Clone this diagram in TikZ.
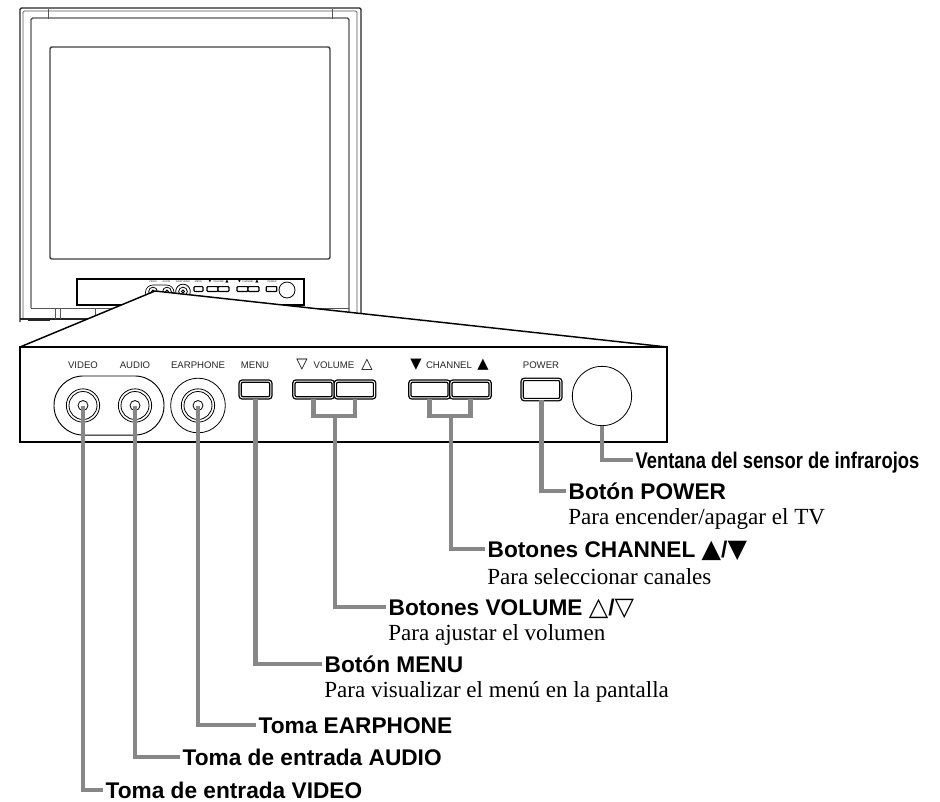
\documentclass[tikz,border=0pt]{standalone}
\usepackage{fontspec}
\setmainfont{Liberation Serif}
\setsansfont{Liberation Sans}
\newfontfamily\symf{DejaVu Sans}
\definecolor{leadgray}{HTML}{878787}
\definecolor{linegray}{HTML}{555555}
\newcommand{\bigtri}[1]{{\symf\fontsize{19}{18}\selectfont\raisebox{-.5pt}{#1}}}
\tikzset{
  tvline/.style={line width=.8pt,draw=black!85},
  tvthin/.style={line width=.6pt,draw=linegray},
  bezel/.style={line width=1pt,draw=linegray,rounded corners=1.2pt},
  lead/.style={line width=3.3pt,draw=leadgray},
  panel/.style={line width=1.1pt,draw=black,fill=white,line join=miter},
  ring/.style={circle,draw=black,line width=.6pt,inner sep=0pt,fill=none},
  btn/.style={rectangle,draw=black,rounded corners=1.8pt,line width=1pt,double=white,double distance=.7pt,inner sep=0pt,minimum height=12.6pt},
  sbtn/.style={rectangle,draw=black,rounded corners=.6pt,line width=.9pt,fill=white,inner sep=0pt,minimum height=3.6pt},
  paneltext/.style={font=\sffamily\fontsize{7.2}{8}\selectfont,inner sep=0pt,text height=5.2pt,text depth=0pt,text=black!85},
  paneltri/.style={font=\symf\fontsize{11}{12}\selectfont,inner sep=0pt,text height=5.2pt,text depth=0pt},
  stext/.style={font=\sffamily\fontsize{1.85}{2}\selectfont,inner sep=0pt,text=black!85},
  stri/.style={font=\symf\fontsize{3.2}{3}\selectfont,inner sep=0pt},
  head/.style={font=\sffamily\bfseries\fontsize{17}{18}\selectfont,anchor=west,inner sep=0pt,outer sep=2pt,text height=12.2pt,text depth=0pt},
  sub/.style={font=\rmfamily\fontsize{17.3}{18}\selectfont,anchor=west,inner sep=0pt},
}
\begin{document}
\begin{tikzpicture}[x=.75pt,y=-.75pt]
\useasboundingbox[fill=white] (0,0) rectangle (940,801);
% television
\draw[line width=1.1pt,draw=black!85,rounded corners=1pt] (20,322) -- (20,8) -- (361,8) -- (361,322);
\draw[tvthin,rounded corners=1pt] (23,319) -- (23,11) -- (357,11) -- (357,322);
\draw[tvline] (20,319) -- (120,319);
\draw[line width=1.6pt,draw=black!85] (28,319.5) -- (50,319.5);
\draw[bezel] (31,308) -- (31,18) -- (349,18) -- (349,322);
\draw[tvthin] (31,308) -- (349,308);
\draw[tvthin] (48,9) -- (48,19);
\draw[tvthin] (332,9) -- (332,19);
\draw[tvthin] (55,308) -- (55,319);
\draw[tvthin] (60,308) -- (60,319);
\draw[tvthin] (95,308) -- (95,319);
\draw[line width=1.1pt,draw=black!75,rounded corners=1.5pt] (50,47) rectangle (330,259);
% small control panel
\draw[line width=1.1pt,draw=black] (77,279) rectangle (304,305);
\draw[line width=.5pt,draw=black,rounded corners=5.5pt] (145.5,285) rectangle (174,300);
\foreach \n/\x in {sv/153,sa/167,se/183}{
  \node[ring,minimum size=6.5pt] (\n) at (\x,291.5) {};
  \node[ring,minimum size=2.2pt] at (\x,291.5) {};
}
\node[ring,minimum size=11pt] (seo) at (183,291.5) {};
\node[sbtn,minimum width=6.8pt] (smenu) at (198.5,289) {};
\node[sbtn,minimum width=8.2pt] (svol1) at (212.5,289) {};
\node[sbtn,minimum width=8.2pt] (svol2) at (223.5,289) {};
\node[sbtn,minimum width=8.2pt] (sch1) at (242.5,289) {};
\node[sbtn,minimum width=8.2pt] (sch2) at (253.5,289) {};
\node[sbtn,minimum width=8pt] (spow) at (271.5,289) {};
\node[ring,minimum size=12pt] (scirc) at (287,290) {};
\node[stext] (tsv) at (153,282) {VIDEO};
\node[stext] (tsa) at (166.5,282) {AUDIO};
\node[stext] (tse) at (183,282) {EARPHONE};
\node[stext] (tsm) at (198.5,282) {MENU};
\node[stri] (tsv1) at (210,281.8) {▼};
\node[stext] (tsvo) at (218.5,282) {VOLUME};
\node[stri] (tsv2) at (227,281.8) {▲};
\node[stri] (tsc1) at (239.5,281.8) {▼};
\node[stext] (tsc) at (248,282) {CHANNEL};
\node[stri] (tsc2) at (257,281.8) {▲};
\node[stext] (tsp) at (272,282) {POWER};
% wedge
\coordinate (apex) at (155,291);
\coordinate (wl) at (20,347);
\coordinate (wr) at (667,347);
\fill[white] (wl) -- (apex) -- (wr) -- cycle;
\draw[line width=1.1pt,draw=black] (wl) -- (apex) -- (wr);
% big control panel
\draw[panel] (20,347) rectangle (667,442);
\node[draw=black,line width=.7pt,fill=white,rectangle,rounded corners=22pt,minimum width=82.5pt,minimum height=44.3pt,inner sep=0pt] (oval) at (109,405.5) {};
\foreach \n/\x in {jv/83,ja/135}{
  \node[ring,minimum size=25pt] at (\x,405.5) {};
  \node[ring,minimum size=21pt] at (\x,405.5) {};
  \node[ring,minimum size=7.5pt] (\n) at (\x,405.5) {};
}
\node[ring,minimum size=41pt] (eo) at (198,405.5) {};
\node[ring,minimum size=25pt] at (198,405.5) {};
\node[ring,minimum size=21pt] at (198,405.5) {};
\node[ring,minimum size=7.5pt] (je) at (198,405.5) {};
\node[btn,minimum width=23pt] (menu) at (255.5,389.5) {};
\node[btn,minimum width=29.5pt] (vol1) at (313.5,389.5) {};
\node[btn,minimum width=29.5pt] (vol2) at (355,389.5) {};
\node[btn,minimum width=29.5pt] (ch1) at (429.5,389.5) {};
\node[btn,minimum width=29.5pt] (ch2) at (470.5,389.5) {};
\node[btn,minimum width=29pt,minimum height=15.2pt] (pow) at (541.5,389.5) {};
\node[ring,minimum size=44.5pt] (irw) at (602,396) {};
\node[paneltext] (tv) at (83,365) {VIDEO};
\node[paneltext] (ta) at (135,365) {AUDIO};
\node[paneltext] (te) at (198,365) {EARPHONE};
\node[paneltext] (tm) at (255,365) {MENU};
\node[paneltri] (tv1) at (302,365) {▽};
\node[paneltext] (tvo) at (334,365) {VOLUME};
\node[paneltri] (tv2) at (367,365) {△};
\node[paneltri] (tc1) at (416,365) {▼};
\node[paneltext] (tc) at (449,365) {CHANNEL};
\node[paneltri] (tc2) at (483,365) {▲};
\node[paneltext] (tp) at (541,365) {POWER};
% labels
\node[head] (lir) at (633,460) {\scalebox{.81}[1]{Ventana del sensor de infrarojos}};
\node[head] (lpow) at (566,491) {Botón POWER};
\node[sub] (spowt) at (568,519) {Para encender/apagar el TV};
\node[head] (lch) at (485,549) {Botones CHANNEL \bigtri{▲}/\bigtri{▼}};
\node[sub] (scht) at (487,577) {Para seleccionar canales};
\node[head] (lvol) at (386,607) {Botones VOLUME \bigtri{△}/\bigtri{▽}};
\node[sub] (svolt) at (388,635) {Para ajustar el volumen};
\node[head] (lmenu) at (322,664) {Botón MENU};
\node[sub] (smenut) at (324,692) {Para visualizar el menú en la pantalla};
\node[head] (lear) at (256,725) {Toma EARPHONE};
\node[head] (laud) at (180,757) {Toma de entrada AUDIO};
\node[head] (lvid) at (103,790) {Toma de entrada VIDEO};
% leaders
\coordinate (volj) at (335,416);
\coordinate (chj) at (451,416);
\draw[lead] (irw.south) |- (lir.west);
\draw[lead] (pow.south) |- (lpow.west);
\draw[lead] (ch1.south) |- (chj) -| (ch2.south);
\draw[lead] (chj) |- (lch.west);
\draw[lead] (vol1.south) |- (volj) -| (vol2.south);
\draw[lead] (volj) |- (lvol.west);
\draw[lead] (menu.south) |- (lmenu.west);
\draw[lead] (je.center) |- (lear.west);
\draw[lead] (ja.center) |- (laud.west);
\draw[lead] (jv.center) |- (lvid.west);
\end{tikzpicture}
\end{document}
